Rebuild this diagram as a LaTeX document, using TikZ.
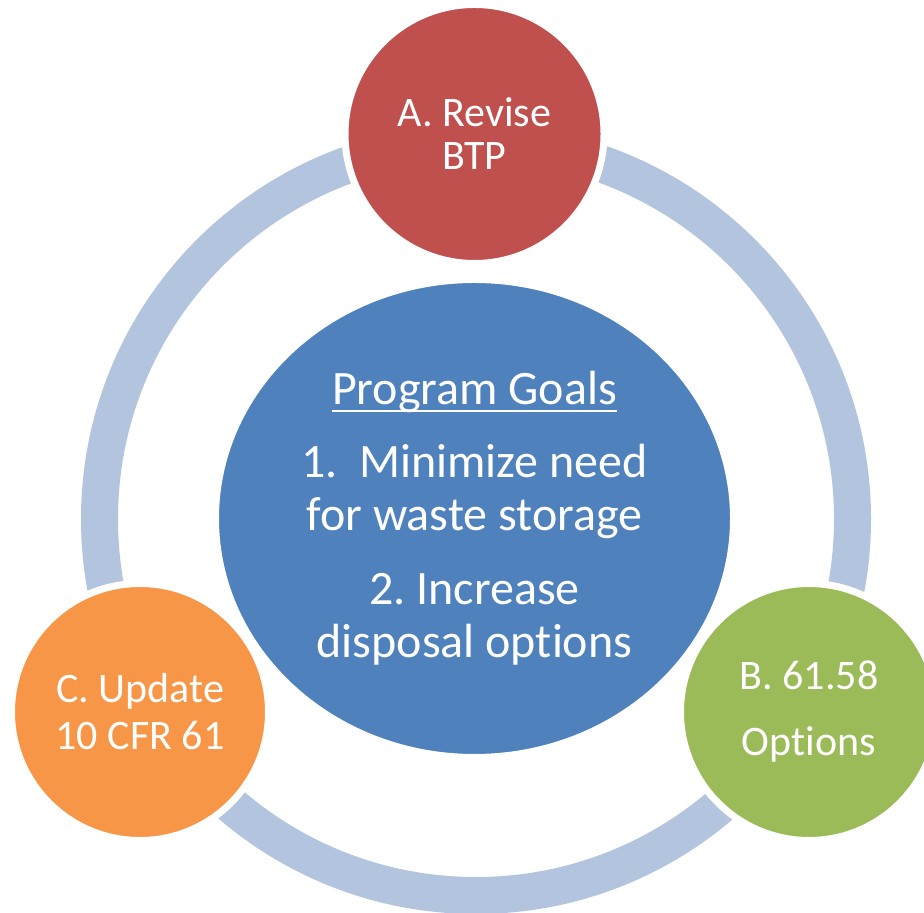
\documentclass[tikz,border=0pt]{standalone}
\usepackage{fontspec}
\setmainfont{Carlito}[Ligatures=NoCommon]
\usepackage{tikz}
\usetikzlibrary{shapes.geometric}
\usepackage{xcolor}
\definecolor{ColRevise}{RGB}{192,80,77}
\definecolor{ColGoals}{RGB}{79,129,189}
\definecolor{ColOptions}{RGB}{155,187,89}
\definecolor{ColUpdate}{RGB}{247,150,70}
\definecolor{ColRing}{RGB}{179,196,222}
\newcommand{\GoalsLine}[1]{\setbox0\hbox{#1}\rlap{\rule[-3.6pt]{\wd0}{0.9pt}}\box0}
\tikzstyle{NodeStep}=[circle,draw=white,line width=3.5pt,text=white,align=center,
inner sep=0pt,minimum size=128.5pt,font=\fontsize{21pt}{23.5pt}\selectfont]
\tikzstyle{NodeGoals}=[ellipse,draw=white,line width=1pt,fill=ColGoals,text=white,
align=center,inner sep=0pt,minimum width=256.5pt,minimum height=236.5pt,
font=\fontsize{24pt}{26.6pt}\selectfont]
\tikzstyle{EdgeRing}=[ColRing,line width=18.5pt]
\frenchspacing
\begin{document}
\begin{tikzpicture}[x=0.5pt,y=0.5pt]
        \clip(0,0)rectangle(924,913);
        \coordinate(hub)at(476,394);
        \draw[EdgeRing](hub)circle[radius=188.25pt];
        \node[NodeGoals](goals)at(474.5,394.5){\GoalsLine{Program Goals}\\[9.6pt]
            1.\ \ Minimize need\\for waste storage\\[10.4pt]
            2. Increase\\disposal options};
        \node[NodeStep,fill=ColRevise,minimum size=129.5pt,
            font=\fontsize{21pt}{21.5pt}\selectfont](revise)at(474.5,779){A. Revise\\BTP};
        \node[NodeStep,fill=ColOptions](options)at(809,201){B. 61.58\\[9.5pt]Options};
        \node[NodeStep,fill=ColUpdate](update)at(140,201){C. Update\\10 CFR 61};
    \end{tikzpicture}
\end{document}
